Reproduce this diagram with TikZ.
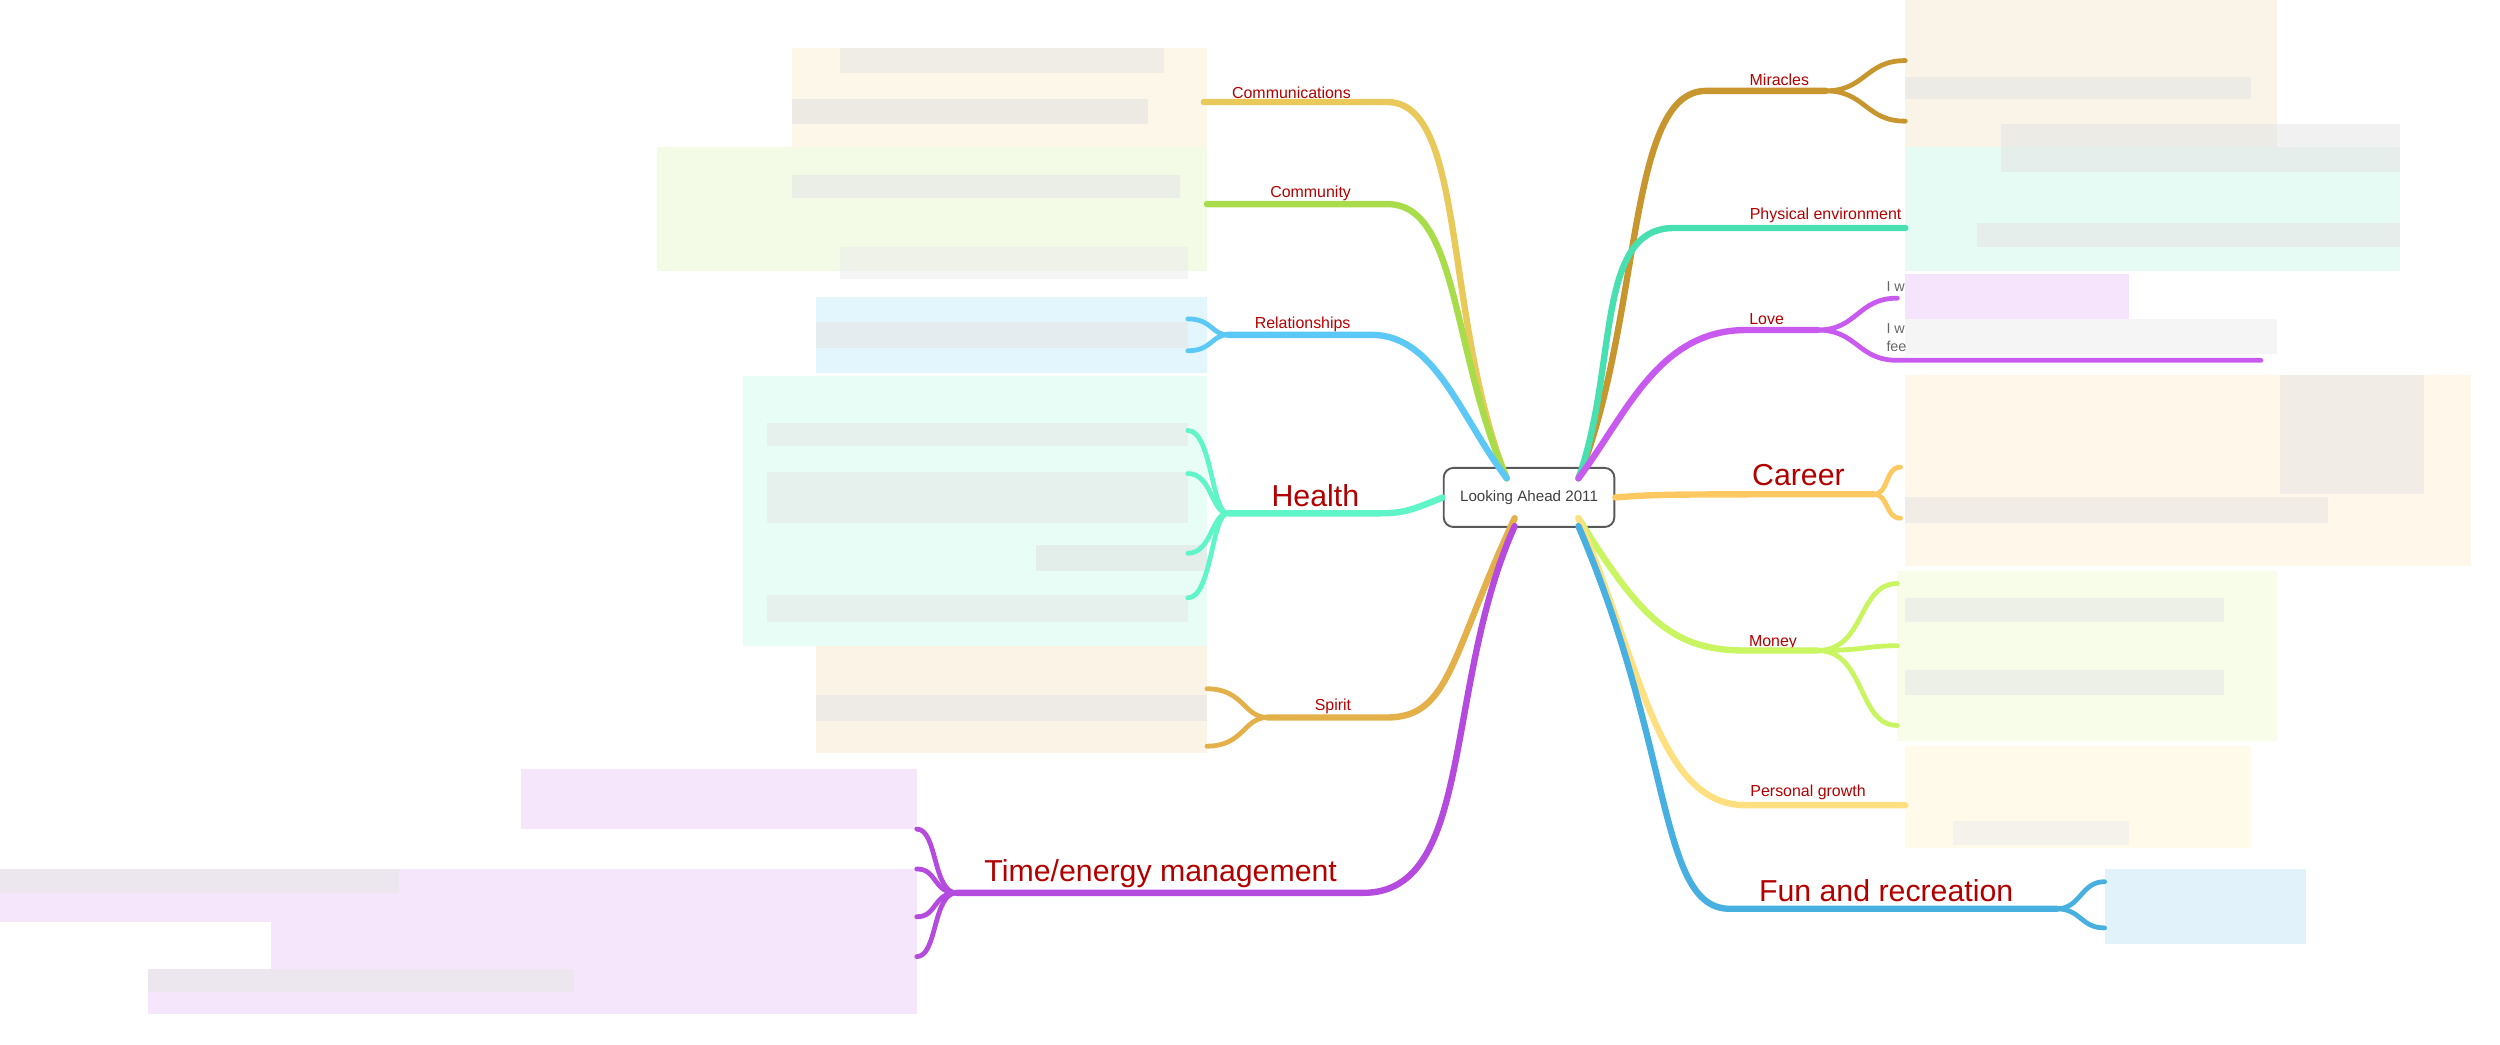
\documentclass[tikz,border=0pt]{standalone}
\usepackage{fontspec}
\setmainfont{Liberation Sans}
\begin{document}
\begin{tikzpicture}[x=1pt,y=-1pt,
  br/.style={line width=4pt,line cap=round},
  sb/.style={line width=3pt,line cap=round},
  lab/.style={text=red!70!black,font=\fontsize{10}{12}\selectfont,inner sep=1pt,anchor=south},
  big/.style={text=red!70!black,font=\fontsize{19}{22}\selectfont,inner sep=1pt,anchor=south},
  bl/.style={fill opacity=0.55,draw=none}]
\useasboundingbox (0,0) rectangle (1568,655);
\definecolor{cComm}{HTML}{E8C95A}\definecolor{cCmty}{HTML}{A8DC4A}
\definecolor{cRel}{HTML}{5BC8F5}\definecolor{cHea}{HTML}{5FF5C8}
\definecolor{cSpi}{HTML}{E3B04A}\definecolor{cTim}{HTML}{B54ADF}
\definecolor{cMir}{HTML}{C8962E}\definecolor{cPhy}{HTML}{48E0B0}
\definecolor{cLov}{HTML}{C85AF0}\definecolor{cCar}{HTML}{FFC860}
\definecolor{cMon}{HTML}{C8F560}\definecolor{cPer}{HTML}{FFE080}
\definecolor{cFun}{HTML}{48B0E0}
% blurred blocks
\fill[bl,cComm!25] (497,30) rectangle (757,92);
\fill[bl,gray!20] (527,30) rectangle (730,46); \fill[bl,gray!25] (497,62) rectangle (720,78);
\fill[bl,cCmty!25] (412,92) rectangle (757,170);
\fill[bl,gray!20] (497,110) rectangle (740,124);
\fill[bl,gray!15] (527,155) rectangle (745,175);
\fill[bl,cRel!30] (512,186) rectangle (757,234);
\fill[bl,gray!20] (512,202) rectangle (745,218);
\fill[bl,cHea!25] (466,236) rectangle (757,405);
\fill[bl,gray!20] (481,265) rectangle (745,280); \fill[bl,gray!20] (481,296) rectangle (745,328);
\fill[bl,gray!25] (650,342) rectangle (757,358); \fill[bl,gray!20] (481,373) rectangle (745,390);
\fill[bl,cSpi!25] (512,405) rectangle (757,472);
\fill[bl,gray!20] (512,436) rectangle (757,452);
\fill[bl,cTim!25] (327,482) rectangle (575,520);
\fill[bl,cTim!25] (0,545) rectangle (575,578);
\fill[bl,gray!20] (0,545) rectangle (250,560);
\fill[bl,cTim!25] (170,578) rectangle (575,608);
\fill[bl,cTim!25] (93,608) rectangle (575,636);
\fill[bl,gray!20] (93,608) rectangle (360,622);
\fill[bl,cMir!20] (1195,0) rectangle (1428,92);
\fill[bl,gray!20] (1195,48) rectangle (1412,62);
\fill[bl,cPhy!25] (1195,92) rectangle (1505,170);
\fill[bl,gray!20] (1255,78) rectangle (1505,108); \fill[bl,gray!20] (1240,140) rectangle (1505,155);
\fill[bl,cLov!30] (1195,172) rectangle (1335,200);
\fill[bl,gray!15] (1195,200) rectangle (1428,222);
\fill[bl,cCar!25] (1195,235) rectangle (1550,355);
\fill[bl,gray!20] (1430,235) rectangle (1520,310); \fill[bl,gray!20] (1195,312) rectangle (1460,328);
\fill[bl,cMon!25] (1190,358) rectangle (1428,465);
\fill[bl,gray!20] (1195,375) rectangle (1395,390); \fill[bl,gray!20] (1195,420) rectangle (1395,436);
\fill[bl,cPer!30] (1195,468) rectangle (1412,532);
\fill[bl,gray!15] (1225,515) rectangle (1335,530);
\fill[bl,cFun!30] (1320,545) rectangle (1446,592);
% center
\node[draw=gray!70!black,line width=1.2pt,rounded corners=6pt,minimum width=107pt,minimum height=37pt,
  font=\fontsize{9.5}{11}\selectfont,text=black!75] (c) at (959,312) {Looking Ahead 2011};
% left labels
\node[lab] (comm) at (810,63) {Communications};
\node[lab] (cmty) at (822,127) {Community};
\node[lab] (rel) at (817,209) {Relationships};
\node[big] (hea) at (825,319) {Health};
\node[lab] (spi) at (836,449) {Spirit};
\node[big] (tim) at (728,558) {Time/energy management};
% right labels
\node[lab] (mir) at (1116,55) {Miracles};
\node[lab] (phy) at (1145,141) {Physical environment};
\node[lab] (lov) at (1108,205) {Love};
\node[big] (car) at (1128,306) {Career};
\node[lab] (mon) at (1112,409) {Money};
\node[lab] (per) at (1134,503) {Personal growth};
\node[big] (fun) at (1183,567) {Fun and recreation};
\node[font=\fontsize{9}{10}\selectfont,text=black!60,anchor=west,inner sep=0] (lw1) at (1183,180) {I w};
\node[font=\fontsize{9}{10}\selectfont,text=black!60,anchor=west,inner sep=0] (lw2) at (1183,206) {I w};
\node[font=\fontsize{9}{10}\selectfont,text=black!60,anchor=west,inner sep=0] (lw3) at (1183,217) {fee};
% coordinates
\coordinate (cl) at (945,300); \coordinate (cr) at (990,300);
% left branches
\draw[br,cComm] (cl) .. controls (905,200) and (920,64) .. (870,64) -- (755,64);
\draw[br,cCmty] (cl) .. controls (910,220) and (915,128) .. (870,128) -- (757,128);
\draw[br,cRel] (cl) .. controls (915,260) and (900,210) .. (860,210) -- (770,210);
\draw[sb,cRel] (770,210) .. controls (760,210) and (760,200) .. (745,200);
\draw[sb,cRel] (770,210) .. controls (760,210) and (760,220) .. (745,220);
\draw[br,cHea] (c.west) .. controls (880,322) and (880,322) .. (855,322) -- (770,322);
\foreach \yy in {270,297,347,375} \draw[sb,cHea] (770,322) .. controls (760,322) and (760,\yy) .. (745,\yy);
\draw[br,cSpi] (950,325) .. controls (910,410) and (910,450) .. (870,450) -- (795,450);
\draw[sb,cSpi] (795,450) .. controls (780,450) and (780,432) .. (757,432);
\draw[sb,cSpi] (795,450) .. controls (780,450) and (780,468) .. (757,468);
\draw[br,cTim] (950,330) .. controls (905,430) and (925,560) .. (855,560) -- (600,560);
\foreach \yy in {520,545,575,600} \draw[sb,cTim] (600,560) .. controls (585,560) and (588,\yy) .. (575,\yy);
% right branches
\draw[br,cMir] (cr) .. controls (1030,200) and (1020,57) .. (1070,57) -- (1145,57);
\draw[sb,cMir] (1145,57) .. controls (1170,57) and (1170,38) .. (1195,38);
\draw[sb,cMir] (1145,57) .. controls (1170,57) and (1170,76) .. (1195,76);
\draw[br,cPhy] (cr) .. controls (1015,230) and (1000,143) .. (1050,143) -- (1195,143);
\draw[br,cLov] (cr) .. controls (1020,260) and (1040,207) .. (1095,207) -- (1140,207);
\draw[sb,cLov] (1140,207) .. controls (1165,207) and (1165,187) .. (1190,187);
\draw[sb,cLov] (1140,207) .. controls (1165,207) and (1165,226) .. (1190,226) -- (1418,226);
\draw[br,cCar] (c.east) .. controls (1040,310) and (1040,310) .. (1175,310);
\draw[sb,cCar] (1175,310) .. controls (1185,310) and (1182,293) .. (1192,293);
\draw[sb,cCar] (1175,310) .. controls (1185,310) and (1182,325) .. (1192,325);
\draw[br,cMon] (990,325) .. controls (1030,390) and (1050,408) .. (1095,408) -- (1140,408);
\draw[sb,cMon] (1140,408) .. controls (1170,408) and (1165,366) .. (1190,366);
\draw[sb,cMon] (1140,408) .. controls (1170,408) and (1170,405) .. (1190,405);
\draw[sb,cMon] (1140,408) .. controls (1170,408) and (1165,455) .. (1190,455);
\draw[br,cPer] (990,325) .. controls (1030,420) and (1040,505) .. (1095,505) -- (1195,505);
\draw[br,cFun] (990,330) .. controls (1050,470) and (1040,570) .. (1085,570) -- (1290,570);
\draw[sb,cFun] (1290,570) .. controls (1305,570) and (1305,553) .. (1320,553);
\draw[sb,cFun] (1290,570) .. controls (1305,570) and (1305,582) .. (1320,582);
\end{tikzpicture}
\end{document}
